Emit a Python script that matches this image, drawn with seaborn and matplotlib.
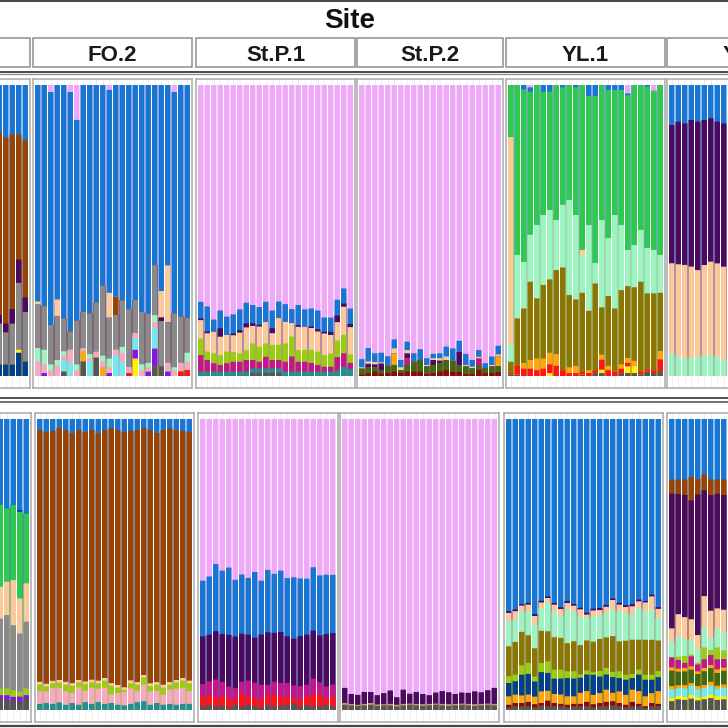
import numpy as np
import matplotlib.pyplot as plt
import seaborn as sns
from matplotlib.patches import Rectangle

# ancestry proportions (%) per individual, bottom -> top
# ---- top row ----
t0_navy = [4, 4, 4, 8, 5]
t0_yellow = [0, 0, 0, 1, 0]
t0_gray = [14, 11, 14, 23, 17]
t0_purple = [3, 3, 5, 8, 5]
t0_brown = [63, 64, 60, 43, 54]
t0_blue = [16, 18, 17, 17, 19]

t1_red = [0, 0, 0, 0, 0, 0, 0, 0, 0, 0, 0, 0, 0, 0, 1, 0, 0, 0, 0, 0, 0, 0, 1.5, 2]
t1_dkgray = [0, 0, 0, 0, 1.5, 0, 0, 5, 0, 6.3, 0, 0, 0, 0, 0, 0, 0, 0, 3.4, 3.4, 0, 0, 0, 0]
t1_yellow = [0, 0, 0, 0, 0, 0, 0, 0, 0, 0, 0, 0, 0, 0, 0, 6, 0, 0, 0, 0, 0, 0, 0, 0]
t1_violet = [0, 1, 0, 0, 0, 0, 0, 0, 0, 0, 0, 1, 0, 0, 0, 3, 0, 1.5, 6, 0, 1.5, 0, 0, 0]
t1_orange = [0, 0, 0, 0, 0, 0, 0, 3.5, 0, 0, 3, 0, 0, 0, 0, 0, 0, 0, 0, 0, 0, 0, 0, 0]
t1_cyan = [0, 0, 0, 0, 4, 4.5, 0, 0, 5, 0, 0, 0, 7, 5, 0, 4, 0, 0, 7, 0, 0, 0, 0, 0]
t1_ltpink = [5, 3, 2, 3.5, 1.5, 4.5, 2, 1, 1, 2, 2, 2, 2, 3, 2, 1.7, 2, 1.5, 2, 0, 3, 2, 3, 3]
t1_mint = [4.6, 5, 2, 2, 1.5, 0, 2, 0, 1.5, 0, 2, 3, 0, 2, 0, 0, 2, 1.5, 2.5, 0, 0, 1, 0, 3]
t1_gray = [14.9, 15, 13.5, 14.9, 11.3, 6.3, 15, 12.5, 14, 17, 24, 14, 12, 16, 20, 11.4,
           18, 17, 17.2, 15.5, 14, 18.5, 16, 12]
t1_purple = [0, 0, 0, 0, 0, 0, 0, 0, 0, 0, 0, 0, 0, 0, 0, 0, 0, 0, 0, 1.2, 0, 0, 0, 0]
t1_brown = [0, 0, 0, 0, 0, 0, 0, 0, 0, 0, 0, 0, 6.3, 0, 0, 0, 0, 0, 0, 0, 0, 0, 0, 0]
t1_peach = [1.1, 0, 0, 5.9, 0, 0, 0, 0, 0, 0, 0, 8.6, 0, 0, 0, 0, 0, 0, 0, 9.1, 19.5, 0, 0, 0]
t1_blue = [74.4, 76, 80.1, 73.7, 80.2, 82.3, 69, 78, 78.5, 74.7, 69, 69.7, 72.7, 74, 77, 73.9,
           78, 78.5, 61.9, 70.8, 62, 76.1, 79.5, 80]
t1_lav = [0, 0, 2.4, 0, 0, 2.4, 12, 0, 0, 0, 0, 1.7, 0, 0, 0, 0, 0, 0, 0, 0, 0, 2.4, 0, 0]

t2_dkgray = [0, 0, 0, 0, 0, 0, 0, 0, 1.1, 1.1, 1.1, 1.1, 1.1, 0, 0, 0, 0, 0, 0, 0, 0, 0, 0, 0]
t2_teal = [1.5, 1.5, 1.5, 1.5, 1.5, 1.5, 1.5, 1.5, 1.5, 1.5, 1.5, 1.5, 1.5, 1.5, 1.5, 1.5,
           1.5, 1.5, 1.5, 1.5, 1.5, 1.9, 3.2, 2.5]
t2_magenta = [5.7, 4.0, 2.9, 2.3, 2.9, 3.4, 3.4, 4.0, 2.9, 2.3, 4.0, 2.9, 2.9, 3.4, 5.2, 3.4,
              3.4, 3.0, 2.3, 1.7, 1.7, 4.6, 4.6, 2.0]
t2_lime = [5.7, 2.9, 3.4, 3.4, 4.0, 3.4, 2.9, 3.4, 5.7, 5.2, 4.6, 5.2, 5.2, 6.3, 6.9, 4.0,
           4.0, 4.5, 4.6, 4.0, 4.6, 5.7, 6.3, 2.9]
t2_peach = [6.3, 6.3, 7.4, 6.3, 5.7, 5.7, 7.1, 7.8, 6.0, 6.9, 7.4, 4.0, 9.2, 7.4, 4.6, 8.0,
            8.0, 7.5, 6.9, 7.4, 6.3, 6.3, 9.7, 9.4]
t2_purple = [0.6, 0.6, 0, 2.9, 0, 0.6, 0.9, 1.4, 0.9, 0.6, 0, 1.7, 0, 0, 0, 0.6,
             0, 0.5, 0.8, 0.6, 1.1, 2.3, 1.1, 1.1]
t2_blue = [5.7, 8.6, 4.2, 6.1, 6.3, 6.6, 7.1, 7.1, 6.3, 6.1, 6.9, 6.1, 5.7, 6.1, 4.8, 6.9,
           6.0, 6.2, 6.4, 4.9, 4.9, 5.4, 5.2, 5.3]
t2_lav = [74.5, 76.1, 80.6, 77.5, 79.6, 78.8, 77.1, 74.8, 75.6, 76.3, 74.5, 77.5, 74.4, 75.3,
          77.0, 75.6, 77.1, 76.8, 77.5, 79.9, 79.9, 73.8, 69.9, 76.8]

t3_dkred = [0.5, 1.0, 1.5, 0.8, 1.0, 1.5, 1.0, 1.5, 1.5, 1.5, 0.7, 1.0, 1.5, 2.0, 1.4, 1.4,
            0.7, 0.7, 2.0, 1.0, 1.0, 1.4]
t3_dkgreen = [2.0, 2.0, 1.5, 1.0, 2.5, 2.3, 1.0, 2.3, 3.4, 4.0, 2.6, 2.8, 3.0, 3.5, 3.8, 2.3,
              2.6, 1.9, 1.7, 1.7, 2.3, 2.0]
t3_magenta = [0, 0, 0, 0, 0, 0, 0, 2.3, 0, 0, 0, 0, 0, 0, 0, 0, 0, 0, 2.3, 0, 0, 0]
t3_orange = [0, 0, 0, 0, 0, 4.0, 0, 0, 0, 0, 0, 0, 0, 0, 0, 0, 0, 0, 0, 0, 0, 3.4]
t3_purple = [0, 1.2, 1.0, 2.5, 0, 0, 0, 1.7, 0, 0, 0, 1.7, 0.8, 0, 0, 4.6, 0, 0, 0, 0, 0, 0]
t3_peach = [0.5, 0.8, 0.8, 0.4, 0, 1.7, 1.0, 1.1, 0, 0, 0.5, 0.6, 0.8, 1.2, 0, 0, 0.5, 0.6,
            0.6, 0, 0.5, 0.6]
t3_blue = [2.8, 4.6, 3.0, 3.3, 3.3, 3.1, 2.5, 2.9, 2.9, 3.7, 2.3, 1.5, 1.7, 3.4, 4.3, 3.8,
           3.8, 2.3, 2.3, 1.7, 2.9, 3.0]
t3_lav = [94.2, 90.4, 92.2, 92.0, 93.2, 87.4, 94.5, 88.2, 92.2, 90.8, 93.9, 92.4, 92.2, 89.9,
          90.5, 87.9, 92.4, 94.5, 91.1, 95.6, 93.3, 89.6]

t4_dkgray = [0.5, 0.5, 0, 0, 0, 0, 0, 0, 0, 0, 0, 0.5, 0, 1, 1, 0, 0, 1, 1, 1, 0.5, 1.5, 1, 1.7]
t4_yellow = [0, 0, 0, 0, 0, 0, 1, 0, 0, 0, 0, 0, 0, 0, 1.2, 0, 0, 0, 2.3, 2.5, 0, 0, 0, 0]
t4_red = [0.5, 3, 2.5, 2.5, 2, 2.5, 3, 3.5, 2, 1, 1, 1, 1, 1, 3.4, 2, 1.5, 1.5, 1.2, 0, 1, 0.8, 1, 4.0]
t4_orange = [0, 0, 2, 3, 4, 3.5, 4, 4, 0, 2, 2.5, 0, 1, 0, 1.7, 1.5, 0, 1.5, 1.7, 1.7, 0, 0, 0, 2.9]
t4_olive = [3.9, 16.3, 18.7, 26.9, 20.7, 25.3, 25.2, 28.9, 35.3, 24.8, 22.8, 27.1, 20.4, 29.8,
            16.3, 24.0, 21.7, 25.5, 24.7, 25.3, 30.9, 26.1, 26.4, 20.0]
t4_mint = [5.8, 21.8, 16.0, 16.1, 25.2, 24.0, 23.8, 17.2, 21.5, 32.7, 29.0, 13.0, 29.5, 7.0,
           30.0, 19.9, 32.1, 22.4, 12.4, 14.5, 17.8, 15.6, 14.9, 13.0]
t4_peach = [71.4, 0, 0, 0, 0, 0, 0, 0, 0, 0, 0, 1.7, 0, 0, 0, 0, 0, 0, 0, 0, 0, 0, 0, 0]
t4_green = [17.9, 58.4, 59.3, 49.2, 48.1, 42.4, 40.7, 46.4, 40.4, 39.5, 43.9, 56.7, 44.3, 57.4,
            46.4, 50.9, 43.0, 46.4, 53.2, 55.0, 49.8, 55.4, 54.7, 58.4]
t4_blue = [0, 0, 1.5, 1.5, 0, 2.3, 2.3, 0, 0.8, 0, 0.8, 0, 3.8, 3.8, 0, 1.7, 1.7, 1.7, 0.6, 0,
           0, 0.6, 0, 0]
t4_lav = [0, 0, 0, 0.8, 0, 0, 0, 0, 0, 0, 0, 0, 0, 0, 0, 0, 0, 0, 2.9, 0, 0, 0, 2.0, 0]

t5_mint = [7.8, 6.6, 6.1, 6.1, 6.6, 7.2, 7.2, 6.6, 5.5]
t5_peach = [30.9, 31.8, 32.1, 31.5, 29.8, 30.9, 32.1, 32.1, 32.1]
t5_purple = [47.5, 49.0, 48.7, 50.4, 51.0, 49.8, 49.3, 48.7, 49.3]
t5_blue = [13.7, 12.6, 13.2, 12.0, 12.6, 12.0, 11.4, 12.6, 13.2]

# ---- bottom row ----
b0_dkgray = [4.0, 3.4, 3.4, 2.9, 4.0]
b0_violet = [1.1, 1.7, 1.1, 1.7, 1.1]
b0_lime = [2.3, 2.3, 2.3, 1.7, 2.3]
b0_gray = [24.0, 25.2, 22.3, 20.0, 22.9]
b0_peach = [10.9, 11.5, 15.5, 12.0, 13.2]
b0_green = [28.1, 25.2, 25.8, 29.8, 24.0]
b0_navy = [0, 0, 0, 0.6, 0]
b0_blue = [29.5, 30.7, 29.5, 31.3, 32.4]

b1_teal = [2.1, 2.4, 2.1, 2.6, 1.8, 2.4, 1.8, 2.7, 2.1, 2.7, 2.1, 2.4, 1.8, 1.6, 2.1, 2.7,
           3.0, 1.8, 2.4, 1.8, 2.1, 1.8, 2.1, 2.1]
b1_ltpink = [4.4, 4.0, 5.5, 4.9, 4.6, 3.4, 6.0, 3.9, 5.5, 4.6, 5.5, 2.9, 4.0, 4.6, 5.3, 3.9,
             5.7, 4.6, 4.2, 3.4, 4.9, 5.5, 5.5, 4.4]
b1_lime = [2.3, 1.7, 1.6, 1.9, 2.3, 2.5, 1.7, 2.3, 1.9, 1.8, 2.5, 3.1, 1.9, 0.7, 1.8, 2.1,
           2.5, 1.9, 2.1, 2.5, 1.7, 2.2, 2.5, 2.7]
b1_peach = [0.9, 0.9, 0.8, 0.9, 1.0, 0.9, 0.8, 0.9, 0.9, 1.0, 0.9, 0.8, 0.9, 0.9, 1.0, 0.9,
            0.8, 0.9, 0.9, 1.0, 0.9, 0.8, 0.9, 0.9]
b1_brown = [86.6, 86.3, 85.8, 86.5, 86.6, 85.9, 85.8, 85.7, 85.8, 85.1, 85.2, 87.6, 87.5, 87.7,
            85.8, 86.6, 84.8, 87.3, 85.6, 87.5, 87.3, 85.8, 84.9, 85.5]
b1_blue = [3.8, 4.5, 4.1, 3.1, 3.8, 4.8, 3.8, 4.5, 3.8, 4.8, 3.8, 3.1, 3.8, 4.5, 4.1, 3.8,
           3.1, 3.8, 4.8, 3.8, 3.1, 3.8, 4.1, 4.5]

b2_dkgray = [1.3, 1.8, 1.3, 1.6, 0.9, 1.8, 1.3, 1.8, 1.3, 0.9, 1.8, 1.3, 1.6, 1.8, 2.4, 1.3,
             1.8, 1.3, 1.3, 1.8, 1.3]
b2_red = [3.4, 3.4, 2.9, 3.1, 3.2, 1.7, 4.6, 2.9, 2.9, 2.6, 3.4, 4.0, 3.1, 2.9, 1.7, 2.3,
          2.9, 4.0, 4.2, 2.1, 3.4]
b2_magenta = [4.2, 4.6, 6.3, 4.9, 4.0, 4.0, 3.8, 5.4, 5.2, 5.2, 3.4, 4.4, 4.6, 4.6, 4.4, 4.6,
              4.0, 5.5, 4.1, 4.2, 4.0]
b2_purple = [16.4, 16.0, 16.6, 16.5, 17.7, 17.7, 16.5, 15.8, 15.5, 17.2, 18.1, 16.8, 17.5,
             16.0, 16.0, 17.2, 17.2, 16.5, 16.0, 18.0, 17.7]
b2_blue = [19.1, 20.0, 23.1, 21.8, 23.1, 19.5, 20.4, 19.5, 22.6, 18.5, 21.4, 20.3, 21.1, 20.0,
           21.1, 19.8, 19.2, 21.8, 20.6, 20.4, 20.0]
b2_lav = [55.5, 54.0, 49.8, 52.1, 51.0, 55.2, 53.5, 54.6, 52.7, 55.5, 51.8, 53.2, 52.1, 54.6,
          54.4, 54.8, 54.8, 51.0, 53.7, 53.5, 53.5]

b3_dkgray = [1.8, 1.6, 1.4, 1.6, 1.8, 1.4, 1.6, 1.6, 1.2, 1.6, 1.8, 1.6, 1.4, 1.6, 1.8, 1.6,
             1.4, 1.6, 1.8, 1.6, 1.4, 1.6, 1.8, 1.6]
b3_tan = [0.6, 0.5, 0.4, 0.5, 0.6, 0.5, 0.4, 0.5, 0.6, 0.5, 0.4, 0.5, 0.6, 0.5, 0.4, 0.5,
          0.6, 0.5, 0.4, 0.5, 0.6, 0.5, 0.4, 0.5]
b3_purple = [5.2, 3.4, 3.4, 4.1, 3.8, 3.2, 3.8, 4.6, 2.6, 4.9, 3.4, 4.1, 3.5, 3.0, 3.8, 4.4,
             4.1, 3.4, 3.8, 3.8, 4.4, 4.0, 4.6, 5.5]
b3_lav = [92.4, 94.5, 94.8, 93.8, 93.8, 94.9, 94.2, 93.3, 95.6, 93.0, 94.4, 93.8, 94.5, 94.9,
          94.0, 93.5, 93.9, 94.5, 94.0, 94.1, 93.6, 93.9, 93.2, 92.4]

b4_dkgray = [0.9, 1.3, 1.3, 1.3, 0.9, 1.6, 1.3, 1.3, 1.3, 0.9, 1.3, 1.3, 1.3, 0.9, 1.3, 1.3,
             1.6, 1.3, 0.9, 1.3, 1.3, 0.7, 1.3, 1.3]
b4_dkred = [0.9, 1.1, 1.1, 1.5, 1.1, 0.8, 1.9, 1.1, 0.8, 0.9, 0.8, 0.8, 1.5, 1.1, 1.1, 1.5,
            1.4, 1.1, 0.9, 1.5, 0.8, 0.6, 1.1, 0.8]
b4_orange = [2.9, 2.9, 2.6, 2.5, 2.6, 4.0, 3.4, 3.1, 3.2, 2.9, 2.6, 3.8, 3.7, 3.2, 3.4, 4.2,
             2.9, 4.0, 3.4, 4.2, 4.4, 3.4, 3.4, 4.4]
b4_navy = [4.6, 4.6, 7.1, 7.1, 5.2, 6.6, 6.1, 5.3, 5.5, 6.3, 6.1, 5.2, 5.7, 6.9, 5.7, 5.2,
           5.4, 4.6, 5.2, 4.0, 5.7, 5.7, 4.6, 4.8]
b4_lime = [2.3, 2.3, 3.2, 3.8, 1.7, 3.1, 4.0, 3.1, 3.1, 2.3, 2.5, 1.1, 1.4, 0.9, 1.9, 2.3,
           1.8, 2.3, 1.7, 1.4, 1.7, 1.7, 1.7, 2.1]
b4_olive = [10.3, 11.2, 11.5, 9.5, 9.7, 11.1, 10.3, 11.1, 10.9, 9.7, 10.3, 10.1, 10.3, 10.5,
            11.0, 10.5, 12.3, 10.3, 11.7, 11.8, 10.3, 12.0, 12.0, 10.5]
b4_mint = [8.6, 7.7, 7.1, 8.2, 8.0, 7.8, 9.7, 8.9, 7.4, 11.5, 10.3, 10.0, 7.8, 8.6, 8.2, 8.4,
           9.2, 10.3, 9.5, 8.6, 10.9, 9.7, 10.3, 7.8]
b4_peach = [2.9, 2.9, 1.9, 2.3, 3.1, 1.9, 1.7, 2.3, 2.5, 2.3, 1.9, 2.3, 1.1, 2.1, 1.7, 2.1,
            3.2, 2.3, 2.1, 2.9, 2.3, 3.1, 4.6, 3.1]
b4_purple = [0.6, 0.6, 0.5, 0.6, 0.7, 0.6, 0.5, 0.6, 0.6, 0.7, 0.6, 0.5, 0.6, 0.6, 0.7, 0.6,
             0.5, 0.6, 0.6, 0.7, 0.6, 0.5, 0.6, 0.6]
b4_blue = [66.1, 65.5, 63.5, 63.2, 67.0, 62.4, 60.9, 63.2, 64.7, 62.6, 63.5, 64.9, 66.6, 65.2,
           64.9, 64.0, 61.7, 63.2, 64.0, 63.8, 62.1, 62.4, 60.3, 64.7]

b5_dkgray = [3.0, 3.6, 3.4, 3.9, 3.2, 3.6, 4.0, 3.4, 3.6]
b5_yellow = [1.1, 1.1, 1.0, 1.2, 1.1, 0.9, 1.1, 1.2, 1.0]
b5_cyan = [2.9, 2.6, 2.9, 3.2, 2.6, 2.9, 3.2, 2.6, 2.9]
b5_orange2 = [1.1, 1.0, 1.1, 0.9, 1.1, 1.0, 1.2, 1.0, 1.1]
b5_dkgreen = [5.2, 4.6, 4.6, 4.6, 4.0, 4.6, 4.6, 4.3, 4.6]
b5_orange = [1.1, 1.0, 1.2, 1.1, 0.9, 1.1, 1.0, 1.2, 1.1]
b5_magenta = [3.4, 2.9, 1.7, 3.4, 2.3, 2.9, 3.4, 3.4, 2.9]
b5_lime = [0, 1.1, 2.3, 0.6, 0.6, 4.0, 1.7, 4.0, 2.9]
b5_mint = [5.2, 6.9, 5.7, 5.2, 4.6, 6.9, 4.0, 6.3, 6.3]
b5_peach = [4.6, 7.4, 7.4, 6.9, 4.6, 10.3, 9.2, 6.9, 7.4]
b5_purple = [45.6, 40.4, 41.2, 40.6, 46.9, 35.5, 38.9, 38.7, 38.7]
b5_brown = [4.8, 4.8, 5.2, 8.0, 5.2, 5.2, 5.2, 4.8, 5.2]
b5_blue = [20.4, 20.4, 20.4, 19.8, 20.0, 18.7, 20.4, 20.4, 20.4]

# strip labels of the top row (the first one lies outside the crop)
site_labels = [None, "FO.2", "St.P.1", "St.P.2", "YL.1", "YL.2"]

colors = {
    "blue": "#1876D2", "brown": "#9A4306", "lav": "#EFA8F7", "green": "#2FC94F",
    "purple": "#4A0A5E", "peach": "#FCC99B", "mint": "#9CF5C1", "olive": "#8C7503",
    "gray": "#8A8A8A", "dkgray": "#555555", "navy": "#043F8C", "lime": "#9ACD12",
    "magenta": "#C2168A", "teal": "#20928E", "red": "#FE1414", "orange": "#FFA50F",
    "orange2": "#FFA50F", "yellow": "#FFF200", "cyan": "#6DEBF0", "violet": "#8512F0",
    "ltpink": "#F6A9C1", "dkgreen": "#3E6B12", "dkred": "#8B0A0A", "tan": "#C89B62",
}

panels = [
    dict(row=0, left=-129, n=24, start=19, label=site_labels[0],
         layers=[("navy", t0_navy), ("yellow", t0_yellow), ("gray", t0_gray),
                 ("purple", t0_purple), ("brown", t0_brown), ("blue", t0_blue)]),
    dict(row=0, left=33, n=24, start=0, label=site_labels[1],
         layers=[("red", t1_red), ("dkgray", t1_dkgray), ("yellow", t1_yellow),
                 ("violet", t1_violet), ("orange", t1_orange), ("cyan", t1_cyan),
                 ("ltpink", t1_ltpink), ("mint", t1_mint), ("gray", t1_gray),
                 ("purple", t1_purple), ("brown", t1_brown), ("peach", t1_peach),
                 ("blue", t1_blue), ("lav", t1_lav)]),
    dict(row=0, left=196, n=24, start=0, label=site_labels[2],
         layers=[("dkgray", t2_dkgray), ("teal", t2_teal), ("magenta", t2_magenta),
                 ("lime", t2_lime), ("peach", t2_peach), ("purple", t2_purple),
                 ("blue", t2_blue), ("lav", t2_lav)]),
    dict(row=0, left=357, n=22, start=0, label=site_labels[3],
         layers=[("dkred", t3_dkred), ("dkgreen", t3_dkgreen), ("magenta", t3_magenta),
                 ("orange", t3_orange), ("purple", t3_purple), ("peach", t3_peach),
                 ("blue", t3_blue), ("lav", t3_lav)]),
    dict(row=0, left=506, n=24, start=0, label=site_labels[4],
         layers=[("dkgray", t4_dkgray), ("yellow", t4_yellow), ("red", t4_red),
                 ("orange", t4_orange), ("olive", t4_olive), ("mint", t4_mint),
                 ("peach", t4_peach), ("green", t4_green), ("blue", t4_blue),
                 ("lav", t4_lav)]),
    dict(row=0, left=667, n=24, start=0, label=site_labels[5],
         layers=[("mint", t5_mint), ("peach", t5_peach), ("purple", t5_purple),
                 ("blue", t5_blue)]),
    dict(row=1, left=-128, n=24, start=19, label=None,
         layers=[("dkgray", b0_dkgray), ("violet", b0_violet), ("lime", b0_lime),
                 ("gray", b0_gray), ("peach", b0_peach), ("green", b0_green),
                 ("navy", b0_navy), ("blue", b0_blue)]),
    dict(row=1, left=35, n=24, start=0, label=None,
         layers=[("teal", b1_teal), ("ltpink", b1_ltpink), ("lime", b1_lime),
                 ("peach", b1_peach), ("brown", b1_brown), ("blue", b1_blue)]),
    dict(row=1, left=198, n=21, start=0, label=None,
         layers=[("dkgray", b2_dkgray), ("red", b2_red), ("magenta", b2_magenta),
                 ("purple", b2_purple), ("blue", b2_blue), ("lav", b2_lav)]),
    dict(row=1, left=340, n=24, start=0, label=None,
         layers=[("dkgray", b3_dkgray), ("tan", b3_tan), ("purple", b3_purple),
                 ("lav", b3_lav)]),
    dict(row=1, left=504, n=24, start=0, label=None,
         layers=[("dkgray", b4_dkgray), ("dkred", b4_dkred), ("orange", b4_orange),
                 ("navy", b4_navy), ("lime", b4_lime), ("olive", b4_olive),
                 ("mint", b4_mint), ("peach", b4_peach), ("purple", b4_purple),
                 ("blue", b4_blue)]),
    dict(row=1, left=667, n=24, start=0, label=None,
         layers=[("dkgray", b5_dkgray), ("yellow", b5_yellow), ("cyan", b5_cyan),
                 ("orange2", b5_orange2), ("dkgreen", b5_dkgreen), ("orange", b5_orange),
                 ("magenta", b5_magenta), ("lime", b5_lime), ("mint", b5_mint),
                 ("peach", b5_peach), ("purple", b5_purple), ("brown", b5_brown),
                 ("blue", b5_blue)]),
]

sns.set_theme(style="white")
plt.rcParams['font.family'] = ['Liberation Sans', 'DejaVu Sans']

W = H = 728
SLOT, PAD = 6.5, 1.5
# panel top, bars top (1.0), bars bottom (0.0), panel bottom  [pixels]
ROWS = {0: (79, 85, 376, 388), 1: (413, 419, 710, 722)}

fig = plt.figure(figsize=(7.28, 7.28), dpi=100)
bg = fig.add_axes([0, 0, 1, 1])
bg.set_xlim(0, W)
bg.set_ylim(H, 0)
bg.axis('off')

# frame lines
bg.plot([0, W], [0.8, 0.8], color='#444444', lw=1.4)
bg.plot([0, W], [71.8, 71.8], color='#3a3a3a', lw=1.3)
bg.plot([0, W], [74.4, 74.4], color='#8a8a8a', lw=0.9)
bg.plot([0, W], [397.8, 397.8], color='#444444', lw=1.3)
bg.plot([0, W], [402.0, 402.0], color='#666666', lw=1.3)
bg.plot([0, W], [726.0, 726.0], color='#444444', lw=1.6)
bg.text(350, 28.3, "Site", ha='center', va='baseline', fontsize=20,
        fontweight='bold', color='#111111')

for p in panels:
    top, y1, y0, bottom = ROWS[p['row']]
    width = p['n'] * SLOT + 2 * PAD
    if p['row'] == 0:
        bg.add_patch(Rectangle((p['left'], 38), width, 29, facecolor='white',
                               edgecolor='#8e8e8e', lw=1.1))
    if p['label'] is not None:
        bg.text(p['left'] + width / 2, 61, p['label'], ha='center', va='baseline',
                fontsize=16, fontweight='bold', color='#1a1a1a')

    ax = fig.add_axes([p['left'] / W, 1 - bottom / H, width / W, (bottom - top) / H])
    names = [name for name, _ in p['layers']]
    vals = np.array([v for _, v in p['layers']], dtype=float)
    vals = vals / vals.sum(axis=0)
    cum = vals.cumsum(axis=0)
    pos = np.arange(p['start'], p['start'] + vals.shape[1])

    ax.vlines(np.arange(p['n']), -1, 2, colors='#ececec', lw=0.6, zorder=0)
    # stacked bars: draw cumulative heights from the top layer down
    for name, c in zip(names[::-1], cum[::-1]):
        sns.barplot(x=pos, y=c, color=colors[name], width=0.84, native_scale=True,
                    saturation=1, errorbar=None, orient='x', linewidth=0,
                    snap=False, ax=ax)

    ax.set_xlim(-0.5 - PAD / SLOT, p['n'] - 0.5 + PAD / SLOT)
    ax.set_ylim(-(bottom - y0) / (y0 - y1), 1 + (y1 - top) / (y0 - y1))
    ax.set_xticks([])
    ax.set_yticks([])
    ax.set_xlabel('')
    ax.set_ylabel('')
    for s in ax.spines.values():
        s.set_color('#a9a9a9')
        s.set_linewidth(1.1)

fig.savefig('out.png', dpi=100)
